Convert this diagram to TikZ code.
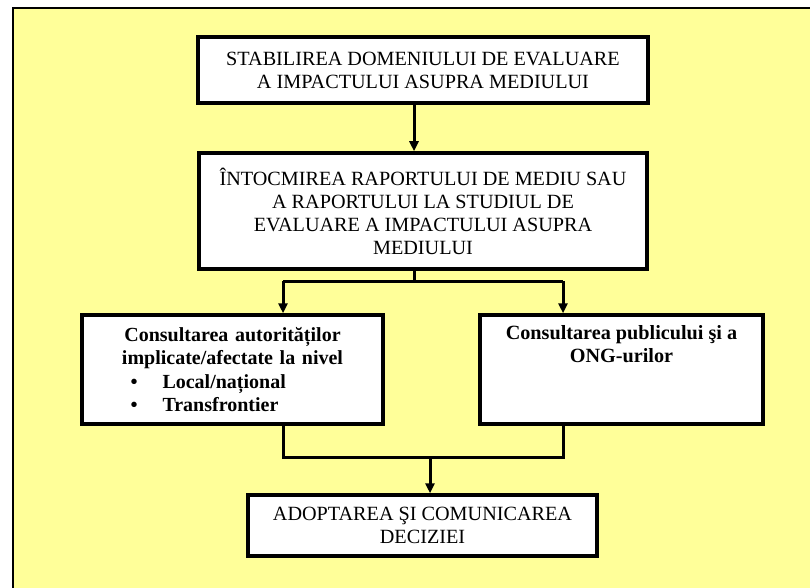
\documentclass[tikz,border=0pt]{standalone}
\usepackage{fontspec}
\setmainfont{Liberation Serif}
\usetikzlibrary{arrows.meta,positioning}
\definecolor{fundal}{HTML}{FFFF99}
\begin{document}
\begin{tikzpicture}[x=1pt,y=-1pt,
    box/.style={draw,line width=3.5pt,fill=white,inner sep=0pt,align=center,
      font=\fontsize{20.2}{23}\selectfont},
    conn/.style={line width=3pt},
    arr/.style={conn,-{Triangle[length=10pt,width=9pt]}}]
  \useasboundingbox (0,0) rectangle (810,588);
  \clip (0,0) rectangle (810,588);
  \draw[fill=fundal,line width=1.5pt] (13,8) rectangle (830,610);
  \node[box,minimum width=450,minimum height=66] (stabilirea) at (423,70)
    {STABILIREA DOMENIULUI DE EVALUARE\\A IMPACTULUI ASUPRA MEDIULUI};
  \node[box,minimum width=448,minimum height=116] (intocmirea) at (423,211)
    {ÎNTOCMIREA RAPORTULUI DE MEDIU SAU\\A RAPORTULUI LA STUDIUL DE\\EVALUARE A IMPACTULUI ASUPRA\\MEDIULUI};
  \node[box,minimum width=301,minimum height=109,text width=222pt,
    font=\fontsize{20}{23.5}\selectfont\bfseries] (autoritati) at (232.5,369.5)
    {Consultarea autorităților\\implicate/afectate la nivel\\
     \makebox[222pt][l]{\hspace{9pt}•\hspace{25pt}Local/național}\\
     \makebox[222pt][l]{\hspace{9pt}•\hspace{25pt}Transfrontier}};
  \node[box,minimum width=283,minimum height=109] (publicul) at (621.5,369.5) {};
  \node[align=center,inner sep=0pt,font=\fontsize{20.2}{23.5}\selectfont\bfseries,
    below=12pt of publicul.north] (publiculText)
    {Consultarea publicului şi a\\ONG-urilor};
  \node[box,minimum width=349,minimum height=61] (decizia) at (422.5,525.5)
    {ADOPTAREA ŞI COMUNICAREA\\DECIZIEI};
  \coordinate (stangaSus) at (283,281);
  \coordinate (dreaptaSus) at (563,281);
  \coordinate (stangaJos) at (283,457);
  \coordinate (dreaptaJos) at (563,457);
  \coordinate (centruJos) at (430,457);
  \draw[arr] ([xshift=-9pt]stabilirea.south) -- ([xshift=-9pt]intocmirea.north);
  \draw[conn] ([xshift=-9pt]intocmirea.south) -- ([xshift=-9pt]intocmirea.south |- stangaSus);
  \draw[conn] (stangaSus) -- (dreaptaSus);
  \draw[arr] (stangaSus) -- (stangaSus |- autoritati.north);
  \draw[arr] (dreaptaSus) -- (dreaptaSus |- publicul.north);
  \draw[conn] (stangaSus |- autoritati.south) -- (stangaJos) -- (dreaptaJos) -- (dreaptaSus |- publicul.south);
  \draw[arr] (centruJos) -- (centruJos |- decizia.north);
\end{tikzpicture}
\end{document}
